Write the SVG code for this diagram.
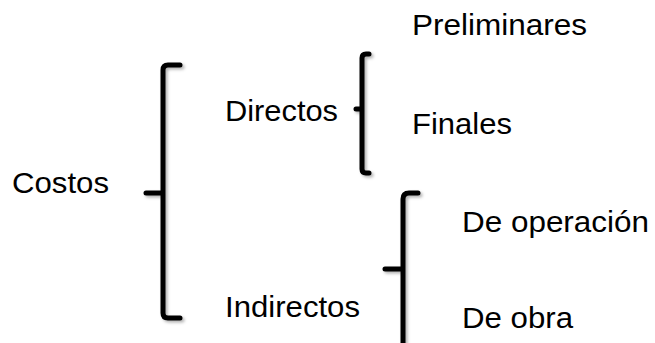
<svg xmlns="http://www.w3.org/2000/svg" width="655" height="343" viewBox="0 0 655 343">
  <defs>
    <filter id="sh" x="-50%" y="-10%" width="200%" height="120%">
      <feDropShadow dx="2" dy="2" stdDeviation="1.5" flood-color="#000" flood-opacity="0.3"/>
    </filter>
  </defs>
  <style>
    .t { font-family: "Liberation Sans", Arial, sans-serif; font-size: 30px; fill: #000; }
    .b { fill: none; stroke: #000; stroke-width: 5; stroke-linecap: round; stroke-linejoin: round; filter: url(#sh); }
  </style>
  <rect width="655" height="343" fill="#fff"/>
  <g id="connectors">
    <path class="b" d="M 180 65 L 168 65 Q 163 65 163 70 L 163 313 Q 163 318 168 318 L 180 318 M 146 193 L 163 193"/>
    <path class="b" d="M 369 54 L 366 54 Q 362 54 362 58 L 362 169 Q 362 173 366 173 L 369 173 M 356 109 L 362 109"/>
    <path class="b" d="M 418 193 L 409 193 Q 403 193 403 199 L 403 350 M 385 269 L 403 269"/>
  </g>
  <g id="costos"><text class="t" x="12" y="193" textLength="97" lengthAdjust="spacingAndGlyphs">Costos</text></g>
  <g id="directos"><text class="t" x="225" y="121" textLength="113" lengthAdjust="spacingAndGlyphs">Directos</text></g>
  <g id="indirectos"><text class="t" x="225" y="317" textLength="135" lengthAdjust="spacingAndGlyphs">Indirectos</text></g>
  <g id="preliminares"><text class="t" x="412" y="35" textLength="175" lengthAdjust="spacingAndGlyphs">Preliminares</text></g>
  <g id="finales"><text class="t" x="412" y="134" textLength="100" lengthAdjust="spacingAndGlyphs">Finales</text></g>
  <g id="de-operacion"><text class="t" x="462" y="232" textLength="187" lengthAdjust="spacingAndGlyphs">De operación</text></g>
  <g id="de-obra"><text class="t" x="462" y="328" textLength="111" lengthAdjust="spacingAndGlyphs">De obra</text></g>
</svg>
